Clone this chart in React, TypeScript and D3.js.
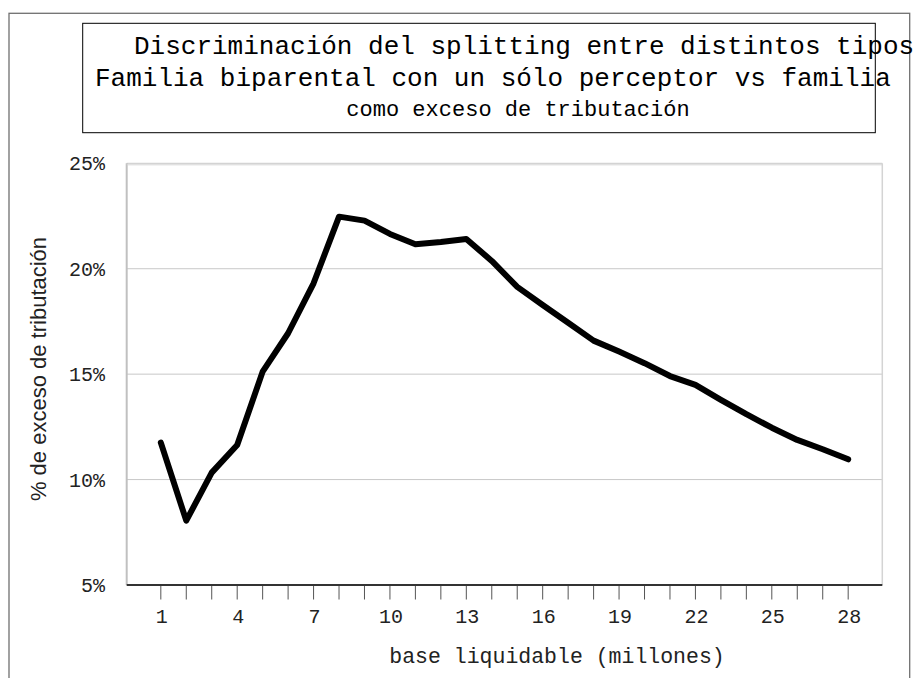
import React from "react";
import * as d3 from "d3";

// base liquidable (millones)
const bases = d3.range(1, 29);
// % de exceso de tributación
const exceso = [
  11.75, 8.05, 10.33, 11.64, 15.12, 16.94, 19.31, 22.47, 22.28, 21.65,
  21.16, 21.27, 21.41, 20.37, 19.14, 18.28, 17.44, 16.59, 16.07, 15.52,
  14.91, 14.49, 13.78, 13.1, 12.46, 11.88, 11.44, 10.96,
];
const yTicks = [5, 10, 15, 20, 25];
const xLabels = [1, 4, 7, 10, 13, 16, 19, 22, 25, 28];

// the title runs past the chart edge in the original; only the visible part is kept
const titleLines = [
  "Discriminación del splitting entre distintos tipos",
  "Familia biparental con un sólo perceptor vs familia",
  "como exceso de tributación",
];

const W = 913;
const H = 678;
const plot = { left: 126.7, right: 882.3, top: 163.3, bottom: 585 };
const mono = "'Liberation Mono', 'Courier New', monospace";
const sans = "'Liberation Sans', Arial, sans-serif";

export default function App() {
  const x = d3
    .scalePoint<number>()
    .domain(bases)
    .range([plot.left, plot.right])
    .padding(1.34);
  const y = d3.scaleLinear().domain([5, 25]).range([plot.bottom, plot.top]);

  const line = d3
    .line<number>()
    .x((_, i) => x(bases[i]) as number)
    .y((d) => y(d));

  return (
    <div style={{ position: "absolute", left: 0, top: 0 }}>
      <svg width={W} height={H} style={{ display: "block", background: "#fff" }}>
        {/* outer frame */}
        <rect x={9} y={13.3} width={900.7} height={700} fill="none" stroke="#707070" strokeWidth={1.3} />

        {/* title box */}
        <rect x={82.7} y={23.3} width={792.6} height={109.4} fill="#fff" stroke="#000" strokeWidth={1} />
        <text x={134} y={54} fontFamily={mono} fontSize={26} fill="#000">
          {titleLines[0]}
        </text>
        <text x={95} y={86} fontFamily={mono} fontSize={26} fill="#000">
          {titleLines[1]}
        </text>
        <text x={518} y={116} textAnchor="middle" fontFamily={mono} fontSize={22} fill="#000">
          {titleLines[2]}
        </text>

        {/* gridlines */}
        {yTicks.map((t) => (
          <line key={t} x1={plot.left} x2={plot.right} y1={y(t)} y2={y(t)} stroke="#c8c8c8" strokeWidth={1} />
        ))}
        {/* plot border */}
        <line x1={plot.left} x2={plot.left} y1={plot.top} y2={plot.bottom} stroke="#c0c0c0" strokeWidth={2} />
        <line x1={plot.right} x2={plot.right} y1={plot.top} y2={plot.bottom} stroke="#d4d4d4" strokeWidth={1.5} />
        <line x1={plot.left} x2={plot.right} y1={plot.top + 1.5} y2={plot.top + 1.5} stroke="#d4d4d4" strokeWidth={1} />

        {/* y tick labels */}
        {yTicks.map((t) => (
          <text
            key={t}
            x={105}
            y={y(t)}
            dy="0.35em"
            textAnchor="end"
            fontFamily={mono}
            fontSize={20}
            fill="#222"
          >
            {`${t}%`}
          </text>
        ))}

        {/* x axis */}
        <line x1={plot.left} x2={plot.right} y1={plot.bottom} y2={plot.bottom} stroke="#333" strokeWidth={2} />
        {bases.map((b) => (
          <line
            key={b}
            x1={x(b)}
            x2={x(b)}
            y1={plot.bottom + 1}
            y2={plot.bottom + 14.5}
            stroke="#555"
            strokeWidth={1}
          />
        ))}
        {xLabels.map((b) => (
          <text
            key={b}
            x={(x(b) as number) + 1}
            y={623}
            textAnchor="middle"
            fontFamily={mono}
            fontSize={20}
            fill="#222"
          >
            {b}
          </text>
        ))}

        {/* axis titles */}
        <text x={557} y={663} textAnchor="middle" fontFamily={mono} fontSize={21.5} fill="#222">
          base liquidable (millones)
        </text>
        <text
          transform="translate(45.5,369) rotate(-90)"
          textAnchor="middle"
          fontFamily={sans}
          fontSize={22}
          fill="#222"
        >
          % de exceso de tributación
        </text>

        {/* series */}
        <path
          d={line(exceso) ?? ""}
          fill="none"
          stroke="#000"
          strokeWidth={6}
          strokeLinejoin="round"
          strokeLinecap="round"
        />
      </svg>
    </div>
  );
}
